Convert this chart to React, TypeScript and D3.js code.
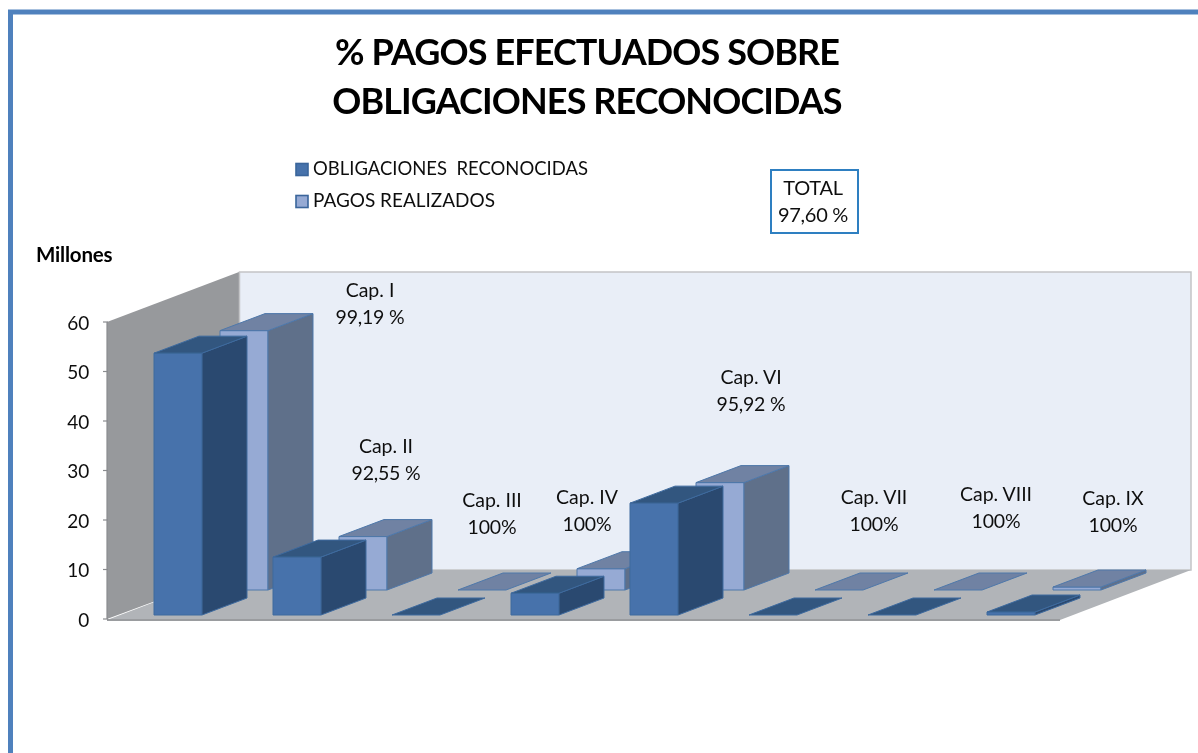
import React from "react";
import * as d3 from "d3";

const categories = ["Cap. I", "Cap. II", "Cap. III", "Cap. IV", "Cap. VI", "Cap. VII", "Cap. VIII", "Cap. IX"];
const percentages = ["99,19 %", "92,55 %", "100%", "100%", "95,92 %", "100%", "100%", "100%"];
const obligaciones = [52.9, 11.7, 0, 4.4, 22.6, 0, 0, 0.6];
const pagos = [52.4, 10.8, 0, 4.3, 21.7, 0, 0, 0.6];
const yTicks = [0, 10, 20, 30, 40, 50, 60];
const titleLines = ["% PAGOS EFECTUADOS SOBRE", "OBLIGACIONES RECONOCIDAS"];
const legendNames = ["OBLIGACIONES  RECONOCIDAS", "PAGOS REALIZADOS"];
const totalLines = ["TOTAL", "97,60 %"];
const axisTitle = "Millones";

const FONT = "Lato, 'Open Sans', sans-serif";

export default function App() {
  const y = d3.scaleLinear().domain([0, 60]).range([619, 322]);
  const x = d3.scaleLinear().domain([0, 7]).range([154, 987]);
  const barW = 48;
  const dx = 45;
  const dy = 17;
  const h = (v: number) => y(0) - y(v);
  const line = d3.line();

  const labelPos: [number, number][] = [
    [370, 297], [386, 453], [492, 507], [587, 504],
    [751, 384], [874, 504], [996, 501], [1113, 505],
  ];

  const bar = (v: number, i: number, ox: number, base: number, c: any, key: string) => {
    const l = x(i) + ox;
    const r = l + barW;
    const t = base - h(v);
    return (
      <g key={key}>
        {v > 0 && <path d={line([[l, base], [r, base], [r, t], [l, t]])! + "Z"} fill={c.front} stroke={c.stroke} strokeWidth={1} />}
        {v > 0 && <path d={line([[r, base], [r + dx, base - dy], [r + dx, t - dy], [r, t]])! + "Z"} fill={c.side} stroke={c.stroke} strokeWidth={1} />}
        <path d={line([[l, t], [l + dx, t - dy], [r + dx, t - dy], [r, t]])! + "Z"} fill={c.top} stroke={c.stroke} strokeWidth={1} />
      </g>
    );
  };

  const frontC = { front: "#4672ab", side: "#2c4a70", top: "#30567f", stroke: "#3e6a9e" };
  const backC = { front: "#96aad4", side: "#5f6f8a", top: "#6f82a3", stroke: "#4f78aa" };

  return (
    <svg width={1198} height={753} style={{ position: "fixed", left: 0, top: 0, background: "#fff" }} fontFamily={FONT}>
      <defs>
        <filter id="soft" x="-2%" y="-2%" width="104%" height="104%">
          <feGaussianBlur stdDeviation="0.6" />
        </filter>
      </defs>
      <g filter="url(#soft)">
        <path d="M10.5,753V12H1198" fill="none" stroke="#4f81bd" strokeWidth={5} />

        {titleLines.map((t, i) => (
          <text key={t} x={587} y={65 + i * 49} textAnchor="middle" fontSize={36} fontWeight={700} fill="#000" letterSpacing={-0.9}>{t}</text>
        ))}

        {legendNames.map((n, i) => (
          <g key={n}>
            <rect x={296} y={163.5 + i * 32} width={12} height={12} fill={i === 0 ? frontC.front : backC.front} stroke="#3a659b" strokeWidth={1.6} />
            <text x={313} y={175 + i * 32} fontSize={19.5} fill="#111" xmlSpace="preserve" textLength={i === 0 ? 275 : 182} lengthAdjust="spacingAndGlyphs">{n}</text>
          </g>
        ))}

        <rect x={771} y={170} width={87} height={63} fill="#fff" stroke="#2f7fc1" strokeWidth={2} />
        {totalLines.map((t, i) => (
          <text key={t} x={813} y={195 + i * 27} textAnchor="middle" fontSize={20} letterSpacing={-0.3} fill="#111">{t}</text>
        ))}

        <text x={36} y={262} fontSize={20.5} fontWeight={700} letterSpacing={-0.2} fill="#000">{axisTitle}</text>

        <path d={line([[107, y(60)], [239, 272], [239, 570], [107, y(0)]])! + "Z"} fill="#97999c" />
        <rect x={239.5} y={272} width={951.5} height={298} fill="#e9eef7" stroke="#c3c4c6" strokeWidth={1.5} />
        <path d={line([[107, y(0) + 1], [239, 570], [1191, 570], [1060, y(0) + 1]])! + "Z"} fill="#b1b4b8" />
        <path d={line([[107, y(0) + 1], [1060, y(0) + 1]])!} stroke="#9a9c9f" strokeWidth={2} fill="none" />

        {yTicks.map((t) => (
          <g key={t}>
            <line x1={103} x2={108} y1={y(t)} y2={y(t)} stroke="#8a8c8f" strokeWidth={1.2} />
            <text x={89} y={y(t) + 7.5} textAnchor="end" fontSize={19} letterSpacing={-0.2} fill="#111">{t}</text>
          </g>
        ))}
        <line x1={107} x2={107} y1={y(60)} y2={y(0)} stroke="#8a8c8f" strokeWidth={1.2} />

        {pagos.map((v, i) => bar(v, i, 66, 590, backC, "b" + i))}
        {obligaciones.map((v, i) => bar(v, i, 0, 615, frontC, "f" + i))}

        {categories.map((c, i) => (
          <g key={c} fontSize={19.5} fill="#111" textAnchor="middle">
            <text x={labelPos[i][0]} y={labelPos[i][1]}>{c}</text>
            <text x={labelPos[i][0]} y={labelPos[i][1] + 27} letterSpacing={-0.2}>{percentages[i]}</text>
          </g>
        ))}
      </g>
    </svg>
  );
}
